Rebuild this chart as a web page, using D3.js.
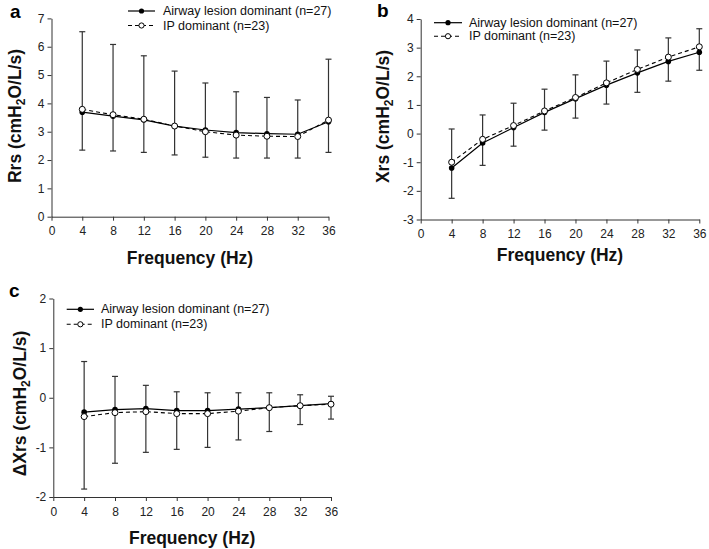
<!DOCTYPE html>
<html><head><meta charset="utf-8">
<script src="https://cdn.jsdelivr.net/npm/d3@7"></script>
<style>
body{margin:0;background:#fff;}
svg text{font-family:Arial,"Liberation Sans",sans-serif;}
</style>
</head><body>
<svg id="chart" width="709" height="549"></svg>
<script>
const freq = [4, 8, 12, 16, 20, 24, 28, 32, 36];
const xTicks = [0, 4, 8, 12, 16, 20, 24, 28, 32, 36];
const seriesNames = ["Airway lesion dominant (n=27)", "IP dominant (n=23)"];

// Panel a: Rrs
const rrsAirway = [3.69, 3.55, 3.42, 3.2, 3.06, 2.97, 2.93, 2.91, 3.35];
const rrsIP     = [3.79, 3.6, 3.44, 3.2, 3.0, 2.88, 2.84, 2.83, 3.41];
const rrsErrUpper = [6.53, 6.08, 5.68, 5.14, 4.72, 4.41, 4.21, 4.12, 5.56];
const rrsErrLower = [2.35, 2.32, 2.27, 2.18, 2.1, 2.07, 2.07, 2.07, 2.27];
const rrsTicks = [0, 1, 2, 3, 4, 5, 6, 7];

// Panel b: Xrs
const xrsAirway = [-1.2, -0.33, 0.21, 0.74, 1.22, 1.69, 2.12, 2.52, 2.84];
const xrsIP     = [-1.0, -0.2, 0.28, 0.79, 1.26, 1.77, 2.24, 2.67, 3.03];
const xrsErrUpper = [0.16, 0.65, 1.06, 1.55, 2.05, 2.53, 2.92, 3.34, 3.66];
const xrsErrLower = [-2.26, -1.11, -0.44, 0.12, 0.54, 1.03, 1.44, 1.83, 2.21];
const xrsTicks = [-3, -2, -1, 0, 1, 2, 3, 4];

// Panel c: delta Xrs
const dxrsAirway = [-0.29, -0.24, -0.22, -0.26, -0.26, -0.23, -0.2, -0.16, -0.12];
const dxrsIP     = [-0.38, -0.3, -0.28, -0.32, -0.32, -0.27, -0.2, -0.16, -0.13];
const dxrsErrUpper = [0.73, 0.43, 0.25, 0.12, 0.1, 0.1, 0.1, 0.06, 0.03];
const dxrsErrLower = [-1.84, -1.32, -1.1, -1.04, -1.0, -0.85, -0.68, -0.54, -0.43];
const dxrsTicks = [-2, -1, 0, 1, 2];

const svg = d3.select("#chart");
const fmt = d => String(d);

const panels = [
  {letter:"a", lx:10, ly:18, x0:51.5, x1:328.5, yTop:18.4, yBot:216.7, domain:[0,7], ticks:rrsTicks,
   airway:rrsAirway, ip:rrsIP, up:rrsErrUpper, lo:rrsErrLower,
   titlePre:"Rrs (cmH", tx:21, ty:116, xty:258,
   leg:{x0:128, x1:155, y:11, dy:14.5, tx:163}},
  {letter:"b", lx:377, ly:17, x0:420.7, x1:699.3, yTop:19, yBot:219.5, domain:[-3,4], ticks:xrsTicks,
   airway:xrsAirway, ip:xrsIP, up:xrsErrUpper, lo:xrsErrLower,
   titlePre:"Xrs (cmH", tx:389, ty:116.5, xty:255,
   leg:{x0:434, x1:462, y:22.7, dy:13.5, tx:469}},
  {letter:"c", lx:9, ly:297, x0:53.3, x1:331, yTop:298.5, yBot:497, domain:[-2,2], ticks:dxrsTicks,
   airway:dxrsAirway, ip:dxrsIP, up:dxrsErrUpper, lo:dxrsErrLower,
   titlePre:"\u0394Xrs (cmH", tx:25.5, ty:403.5, xty:538,
   leg:{x0:66.7, x1:94, y:309.3, dy:15, tx:101}}
];

panels.forEach(p => {
  const g = svg.append("g");
  const x = d3.scaleLinear().domain([0,36]).range([p.x0, p.x1]);
  const y = d3.scaleLinear().domain(p.domain).range([p.yBot, p.yTop]);

  const xa = g.append("g").attr("transform", `translate(0,${p.yBot})`)
    .call(d3.axisBottom(x).tickValues(xTicks).tickFormat(fmt).tickSize(4).tickSizeOuter(0).tickPadding(6));
  const ya = g.append("g").attr("transform", `translate(${p.x0},0)`)
    .call(d3.axisLeft(y).tickValues(p.ticks).tickFormat(fmt).tickSize(4).tickSizeOuter(0).tickPadding(3));
  [xa, ya].forEach(a => {
    a.selectAll("path,line").attr("stroke", "#333").attr("stroke-width", 1);
    a.selectAll("text").attr("font-size", 12).attr("fill", "#222");
  });

  const eb = g.append("g").attr("stroke", "#333").attr("stroke-width", 1.2).attr("fill", "none");
  freq.forEach((f, i) => {
    const cx = x(f);
    eb.append("line").attr("x1", cx).attr("x2", cx).attr("y1", y(p.up[i])).attr("y2", y(p.lo[i]));
    eb.append("line").attr("x1", cx-3).attr("x2", cx+3).attr("y1", y(p.up[i])).attr("y2", y(p.up[i]));
    eb.append("line").attr("x1", cx-3).attr("x2", cx+3).attr("y1", y(p.lo[i])).attr("y2", y(p.lo[i]));
  });

  const line = d3.line().x((d,i) => x(freq[i])).y(d => y(d));
  g.append("path").datum(p.airway).attr("d", line).attr("fill","none").attr("stroke","#000").attr("stroke-width",1.2);
  g.append("path").datum(p.ip).attr("d", line).attr("fill","none").attr("stroke","#000").attr("stroke-width",1.1).attr("stroke-dasharray","4,3");

  g.selectAll(".ma").data(p.airway).enter().append("circle")
    .attr("cx",(d,i)=>x(freq[i])).attr("cy",d=>y(d)).attr("r",2.8).attr("fill","#000");
  g.selectAll(".mi").data(p.ip).enter().append("circle")
    .attr("cx",(d,i)=>x(freq[i])).attr("cy",d=>y(d)).attr("r",3).attr("fill","#fff").attr("stroke","#000").attr("stroke-width",1);

  g.append("text").attr("x", p.lx).attr("y", p.ly).text(p.letter)
    .attr("font-size", 19).attr("font-weight", "bold").attr("fill", "#000");

  g.append("text").attr("x", (p.x0+p.x1)/2).attr("y", p.xty).attr("text-anchor","middle")
    .attr("dominant-baseline","central").attr("font-size",17.5).attr("font-weight","bold").attr("fill","#111")
    .text("Frequency (Hz)");

  const yt = g.append("text").attr("transform", `translate(${p.tx},${p.ty}) rotate(-90)`)
    .attr("text-anchor","middle").attr("font-size",17.5).attr("font-weight","bold").attr("fill","#111");
  yt.append("tspan").text(p.titlePre);
  yt.append("tspan").text("2").attr("font-size",12).attr("dy",4);
  yt.append("tspan").text("O/L/s)").attr("dy",-4);

  const L = p.leg;
  const lm = (L.x0+L.x1)/2;
  g.append("line").attr("x1",L.x0).attr("x2",L.x1).attr("y1",L.y).attr("y2",L.y).attr("stroke","#000").attr("stroke-width",1.2);
  g.append("circle").attr("cx",lm).attr("cy",L.y).attr("r",2.6).attr("fill","#000");
  g.append("text").attr("x",L.tx).attr("y",L.y).attr("dominant-baseline","central").attr("font-size",12.5).attr("fill","#111").text(seriesNames[0]);
  const y2 = L.y + L.dy;
  g.append("line").attr("x1",L.x0).attr("x2",L.x1).attr("y1",y2).attr("y2",y2).attr("stroke","#000").attr("stroke-width",1.1).attr("stroke-dasharray","4,3");
  g.append("circle").attr("cx",lm).attr("cy",y2).attr("r",2.6).attr("fill","#fff").attr("stroke","#000").attr("stroke-width",1);
  g.append("text").attr("x",L.tx).attr("y",y2).attr("dominant-baseline","central").attr("font-size",12.5).attr("fill","#111").text(seriesNames[1]);
});
</script>
</body></html>
